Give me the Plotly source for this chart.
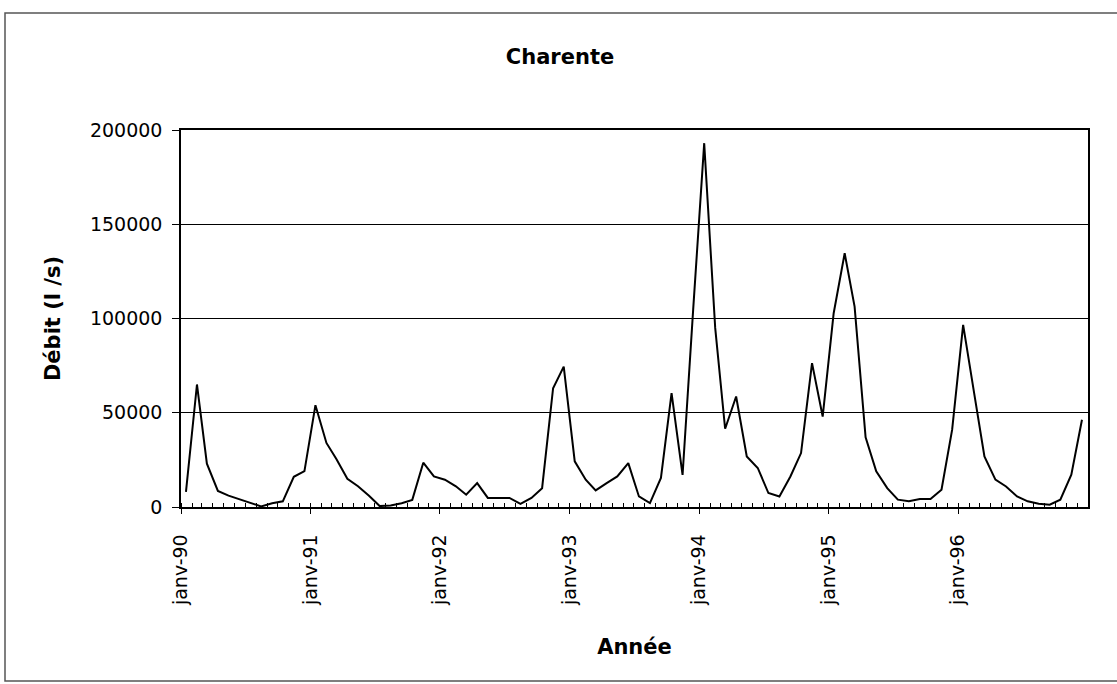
import plotly.graph_objects as go

# Monthly dates (mid-month), Jan 1990 - Dec 1996
months = [f"{1990 + i // 12}-{i % 12 + 1:02d}-15" for i in range(84)]

debit = [
    8000, 65000, 23000, 8500, 6000, 4000, 2000, 300, 2000, 3000, 16000, 19000,      # 1990
    54000, 34000, 25500, 15000, 11000, 6000, 500, 800, 2000, 3800, 23500, 16200,    # 1991
    14500, 11000, 6500, 12700, 4800, 4800, 4800, 1600, 4800, 10000, 63000, 74500,   # 1992
    24200, 14500, 8800, 12700, 16200, 23300, 5600, 2100, 15400, 60400, 17000, 105000,  # 1993
    193000, 95000, 41500, 58600, 26800, 20700, 7400, 5600, 16200, 28600, 76300, 48000,  # 1994
    102800, 134600, 106300, 37000, 18900, 10000, 3900, 3000, 4200, 4200, 9200, 41000,  # 1995
    96600, 60400, 26800, 14500, 10900, 5600, 3000, 1700, 1200, 3900, 17100, 46300,   # 1996
]

year_ticks = [f"{y}-01-01" for y in range(1990, 1997)]
year_labels = ["janv-90", "janv-91", "janv-92", "janv-93", "janv-94", "janv-95", "janv-96"]
y_ticks = [0, 50000, 100000, 150000, 200000]
y_labels = ["0", "50000", "100000", "150000", "200000"]

FONT = "DejaVu Sans"

fig = go.Figure()
fig.add_trace(go.Scatter(
    x=months, y=debit, mode="lines",
    line=dict(color="black", width=2),
    showlegend=False,
))

fig.update_layout(
    width=1117, height=684,
    margin=dict(l=181, r=29, t=130, b=177),
    paper_bgcolor="white", plot_bgcolor="white",
    font=dict(family=FONT, color="black", size=19),
    title=dict(text="<b>Charente</b>", x=560 / 1117, xref="container", xanchor="center",
               y=1 - 57 / 684, yref="container", yanchor="middle",
               font=dict(family=FONT, size=21)),
    shapes=[dict(type="rect", xref="paper", yref="paper",
                 x0=(5 - 181) / 907, x1=(1140 - 181) / 907,
                 y0=(507 - 681) / 377, y1=(507 - 13) / 377,
                 line=dict(color="#555555", width=1.5), layer="below")],
)

fig.update_xaxes(
    type="date",
    range=["1990-01-01", "1997-01-01"],
    tickmode="array", tickvals=year_ticks, ticktext=year_labels,
    tickangle=-90,
    ticks="outside", ticklen=5, tickcolor="black", tickwidth=1,
    ticklabelstandoff=13,
    minor=dict(tickmode="linear", tick0="1990-01-01", dtick="M1",
               ticks="inside", ticklen=4, tickcolor="black", showgrid=False),
    showgrid=False, zeroline=False,
    showline=True, linecolor="black", linewidth=1.5, mirror=True,
    tickfont=dict(family=FONT, size=19),
    title=dict(text="<b>Année</b>", font=dict(family=FONT, size=21), standoff=34),
)

fig.update_yaxes(
    range=[0, 200000],
    tickmode="array", tickvals=y_ticks, ticktext=y_labels,
    ticks="outside", ticklen=7, tickcolor="black",
    ticklabelstandoff=6,
    showgrid=True, gridcolor="black", gridwidth=1,
    zeroline=False,
    showline=True, linecolor="black", linewidth=1.5, mirror=True,
    tickfont=dict(family=FONT, size=19),
    title=dict(text="<b>Débit (l /s)</b>", font=dict(family=FONT, size=21), standoff=24),
)

fig.write_html("out.html", config={"displayModeBar": False},
               post_script="document.body.style.margin='0';")
